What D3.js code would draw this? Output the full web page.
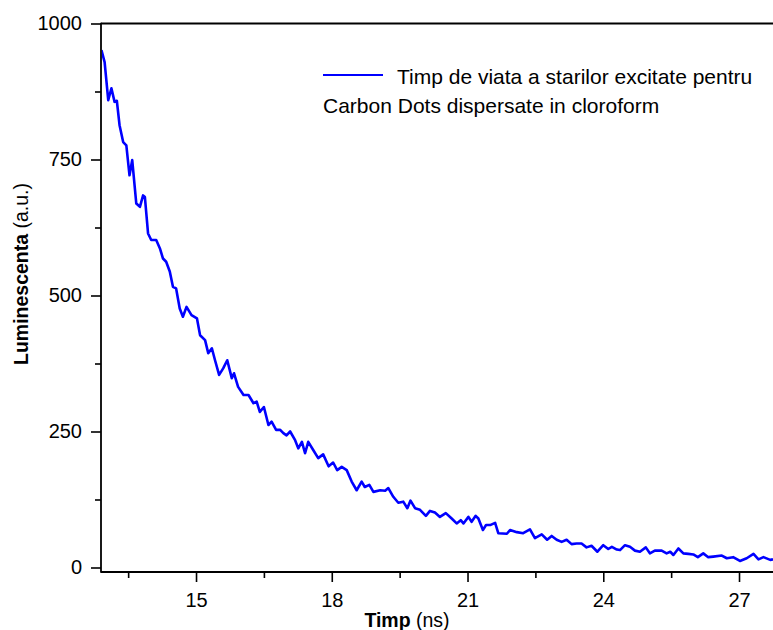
<!DOCTYPE html>
<html>
<head>
<meta charset="utf-8">
<script src="https://cdn.jsdelivr.net/npm/d3@7"></script>
<style>
  body { margin: 0; background: #fff; }
  svg { display: block; font-family: "Liberation Sans", Arial, sans-serif; }
  .axis text { font-size: 20px; fill: #000; }
  .axis line { stroke: #000; stroke-width: 1.6; }
</style>
</head>
<body>
<script>
// decay curve (time in ns, luminescence in a.u.)
const timeNs = [
  12.91, 12.98, 13.06, 13.13, 13.20, 13.25, 13.31, 13.39, 13.46, 13.53,
  13.59, 13.68, 13.76, 13.83, 13.87, 13.94, 14.01, 14.12, 14.20, 14.27,
  14.34, 14.42, 14.49, 14.56, 14.64, 14.71, 14.79, 14.90, 15.02, 15.09,
  15.20, 15.27, 15.35, 15.42, 15.51, 15.60, 15.69, 15.79, 15.84, 15.93,
  16.05, 16.16, 16.27, 16.34, 16.41, 16.50, 16.60, 16.67, 16.77, 16.86,
  16.93, 17.00, 17.08, 17.19, 17.26, 17.34, 17.41, 17.48, 17.59, 17.70,
  17.81, 17.93, 18.03, 18.12, 18.22, 18.33, 18.44, 18.55, 18.66, 18.73,
  18.83, 18.92, 19.07, 19.18, 19.25, 19.36, 19.47, 19.58, 19.67, 19.74,
  19.84, 19.95, 20.08, 20.17, 20.28, 20.39, 20.52, 20.65, 20.76, 20.85,
  20.91, 21.02, 21.09, 21.18, 21.24, 21.34, 21.41, 21.50, 21.61, 21.68,
  21.87, 21.94, 22.09, 22.23, 22.38, 22.49, 22.64, 22.76, 22.86, 22.97,
  23.08, 23.19, 23.30, 23.41, 23.52, 23.63, 23.74, 23.87, 24.00, 24.11,
  24.19, 24.30, 24.37, 24.48, 24.59, 24.70, 24.81, 24.94, 25.03, 25.14,
  25.29, 25.40, 25.48, 25.55, 25.66, 25.77, 25.88, 25.99, 26.09, 26.21,
  26.32, 26.43, 26.62, 26.73, 26.87, 27.02, 27.17, 27.32, 27.43, 27.54,
  27.69, 27.75
];
const luminescence = [
  951, 929, 859, 881, 856, 858, 813, 782, 776, 721,
  749, 669, 663, 684, 681, 614, 602, 602, 587, 568,
  562, 544, 516, 513, 476, 461, 479, 464, 458, 427,
  418, 394, 403, 381, 354, 366, 381, 348, 357, 332,
  317, 317, 302, 305, 286, 295, 262, 268, 253, 253,
  247, 243, 250, 234, 219, 231, 210, 231, 216, 201,
  208, 186, 193, 179, 185, 179, 158, 142, 158, 148,
  152, 139, 142, 141, 146, 130, 119, 121, 109, 123,
  109, 106, 95, 104, 101, 93, 100, 90, 81, 87,
  81, 93, 84, 95, 90, 69, 78, 78, 82, 63,
  62, 69, 65, 63, 70, 54, 61, 51, 58, 51,
  47, 51, 43, 44, 44, 37, 40, 29, 41, 34,
  38, 33, 32, 41, 38, 31, 29, 37, 26, 31,
  31, 26, 29, 23, 35, 26, 25, 24, 19, 26,
  19, 20, 22, 17, 19, 12, 17, 25, 15, 19,
  14, 15
];
const xMajorTicks = [15, 18, 21, 24, 27];
const xMinorTicks = [13.5, 16.5, 19.5, 22.5, 25.5];
const yMajorTicks = [0, 250, 500, 750, 1000];
const yMinorTicks = [125, 375, 625, 875];
const legendLines = ["Timp de viata a starilor excitate pentru", "Carbon Dots dispersate in cloroform"];

const W = 773, H = 630;
const plotLeft = 101, plotRight = 773, plotTop = 23.5, zeroY = 567.5, bottomLine = 572;

const svg = d3.select("body").append("svg").attr("width", W).attr("height", H);

const x = d3.scaleLinear().domain([12.9, 27.751]).range([plotLeft, plotRight]);
const y = d3.scaleLinear().domain([0, 1000]).range([zeroY, plotTop]);

// axes (domain paths removed, frame drawn by hand below)
const gx = svg.append("g").attr("class", "axis").attr("transform", `translate(0,${bottomLine})`);
gx.call(d3.axisBottom(x).tickValues(xMajorTicks).tickSize(10).tickPadding(11).tickFormat(d3.format("d")));
gx.call((g) => g.select(".domain").remove());
const gxm = svg.append("g").attr("class", "axis").attr("transform", `translate(0,${bottomLine})`);
gxm.call(d3.axisBottom(x).tickValues(xMinorTicks).tickSize(6).tickFormat(""));
gxm.call((g) => g.select(".domain").remove());

const gy = svg.append("g").attr("class", "axis").attr("transform", `translate(${plotLeft},0)`);
gy.call(d3.axisLeft(y).tickValues(yMajorTicks).tickSize(10).tickPadding(9).tickFormat(d3.format("d")));
gy.call((g) => g.select(".domain").remove());
const gym = svg.append("g").attr("class", "axis").attr("transform", `translate(${plotLeft},0)`);
gym.call(d3.axisLeft(y).tickValues(yMinorTicks).tickSize(6).tickFormat(""));
gym.call((g) => g.select(".domain").remove());

const frame = svg.append("g").attr("stroke", "#000").attr("stroke-width", 1.8).attr("fill", "none");
frame.append("line").attr("x1", plotLeft).attr("x2", plotLeft).attr("y1", y(1000) - 0.8).attr("y2", bottomLine + 0.8);
frame.append("line").attr("x1", plotLeft).attr("x2", plotRight).attr("y1", y(1000)).attr("y2", y(1000));
frame.append("line").attr("x1", plotLeft).attr("x2", plotRight).attr("y1", bottomLine).attr("y2", bottomLine);

svg.append("clipPath").attr("id", "plot-clip")
  .append("rect").attr("x", plotLeft + 1).attr("y", plotTop).attr("width", plotRight - plotLeft).attr("height", bottomLine - plotTop);

const data = timeNs.map((t, i) => ({ t, v: luminescence[i] }));
svg.append("path")
  .datum(data)
  .attr("clip-path", "url(#plot-clip)")
  .attr("fill", "none")
  .attr("stroke", "#0000ff")
  .attr("stroke-width", 2.6)
  .attr("stroke-linejoin", "round")
  .attr("d", d3.line().x((d) => x(d.t)).y((d) => y(d.v)));

// axis titles
const xt = svg.append("text").attr("x", 407).attr("y", 627).attr("text-anchor", "middle").style("font-size", "19.5px");
xt.append("tspan").attr("font-weight", "bold").text("Timp");
xt.append("tspan").text(" (ns)");

const yt = svg.append("text")
  .attr("transform", "translate(28,274) rotate(-90)")
  .attr("text-anchor", "middle")
  .style("font-size", "19.5px");
yt.append("tspan").attr("font-weight", "bold").text("Luminescenta");
yt.append("tspan").text(" (a.u.)");

// legend
svg.append("line").attr("x1", 323).attr("x2", 383).attr("y1", 75).attr("y2", 75)
  .attr("stroke", "#0000ff").attr("stroke-width", 2.2);
svg.append("text").attr("x", 397).attr("y", 84).style("font-size", "21px").text(legendLines[0]);
svg.append("text").attr("x", 323).attr("y", 113).style("font-size", "21px").text(legendLines[1]);
</script>
</body>
</html>
